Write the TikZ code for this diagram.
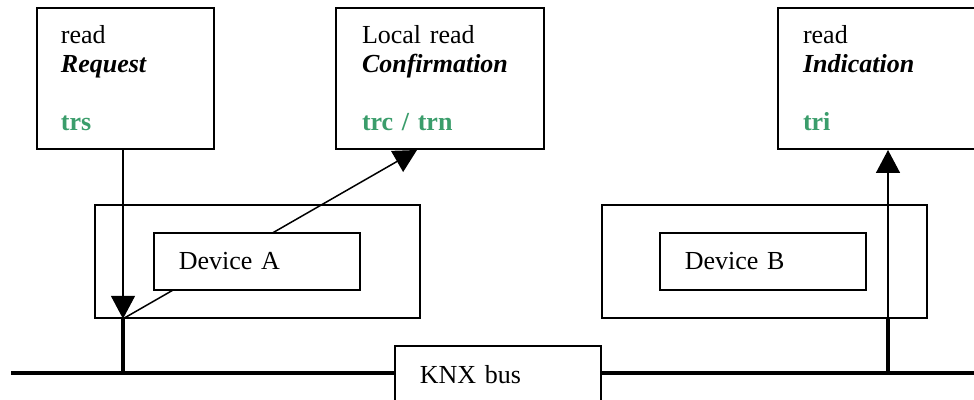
\documentclass[tikz,border=0pt]{standalone}
\usepackage{fontspec}
\setmainfont{Liberation Serif}
\usetikzlibrary{arrows.meta,positioning,backgrounds}
\definecolor{knxGreen}{HTML}{3A9D6B}
\newcommand{\servicelines}[3]{#1\\\textbf{\textit{#2}}\\[14.5pt]\textcolor{knxGreen}{\textbf{#3}}}

\begin{document}
\begin{tikzpicture}[
  x=0.5pt,y=-0.5pt,
  font=\fontsize{13}{14.5}\selectfont,
  servicebox/.style={rectangle,draw,line width=1pt,fill=white,anchor=north west,align=left,minimum height=70.5pt,inner ysep=0pt},
  devframe/.style={rectangle,draw,line width=0.9pt,anchor=north west,minimum width=162.5pt,minimum height=56.5pt},
  devbox/.style={rectangle,draw,line width=0.9pt,fill=white,anchor=north west,align=left,text width=78pt,inner xsep=12.5pt,minimum height=28.5pt},
  arrow/.style={-{Triangle[length=11.5pt,width=12pt]},line width=0.75pt},
  busline/.style={line width=2pt}
]
\useasboundingbox (0,0) rectangle (974,400);
\clip (0,0) rectangle (974,400);
% service primitives
\node[servicebox,text width=64.5pt,inner xsep=12pt] (req) at (36,7) {\servicelines{read}{Request}{trs}};
\node[servicebox,text width=78pt,inner xsep=13pt] (conf) at (335,7) {\servicelines{Local read}{Confirmation}{trc / trn}};
\node[servicebox,text width=85pt,inner xsep=12.5pt] (ind) at (777,7) {\servicelines{read}{Indication}{tri}};
% devices
\node[devframe] (frameA) at (94,204) {};
\node[devframe] (frameB) at (601,204) {};
\node[devbox] (devA) at (153,232) {Device A};
\node[devbox] (devB) at (659,232) {Device B};
% bus
\node[devbox,minimum height=29pt] (bus) at (394,345) {KNX bus};
\coordinate (busL) at (11,373);
\coordinate (busR) at (990,373);
\coordinate (tapA) at (123,373);
\coordinate (tapB) at (888,373);
\coordinate (jA) at (tapA |- frameA.south);
\coordinate (jB) at (tapB |- frameB.south);
\begin{scope}[on background layer]
\draw[busline] (busL) -- (busR);
\draw[busline] (tapA) -- (jA);
\draw[busline] (tapB) -- (jB);
\draw[arrow] (req.south -| tapA) -- (jA);
\draw[arrow] (jA) -- ([xshift=41pt]conf.south west);
\draw[arrow] (jB) -- (ind.south -| jB);
\end{scope}
\end{tikzpicture}
\end{document}
